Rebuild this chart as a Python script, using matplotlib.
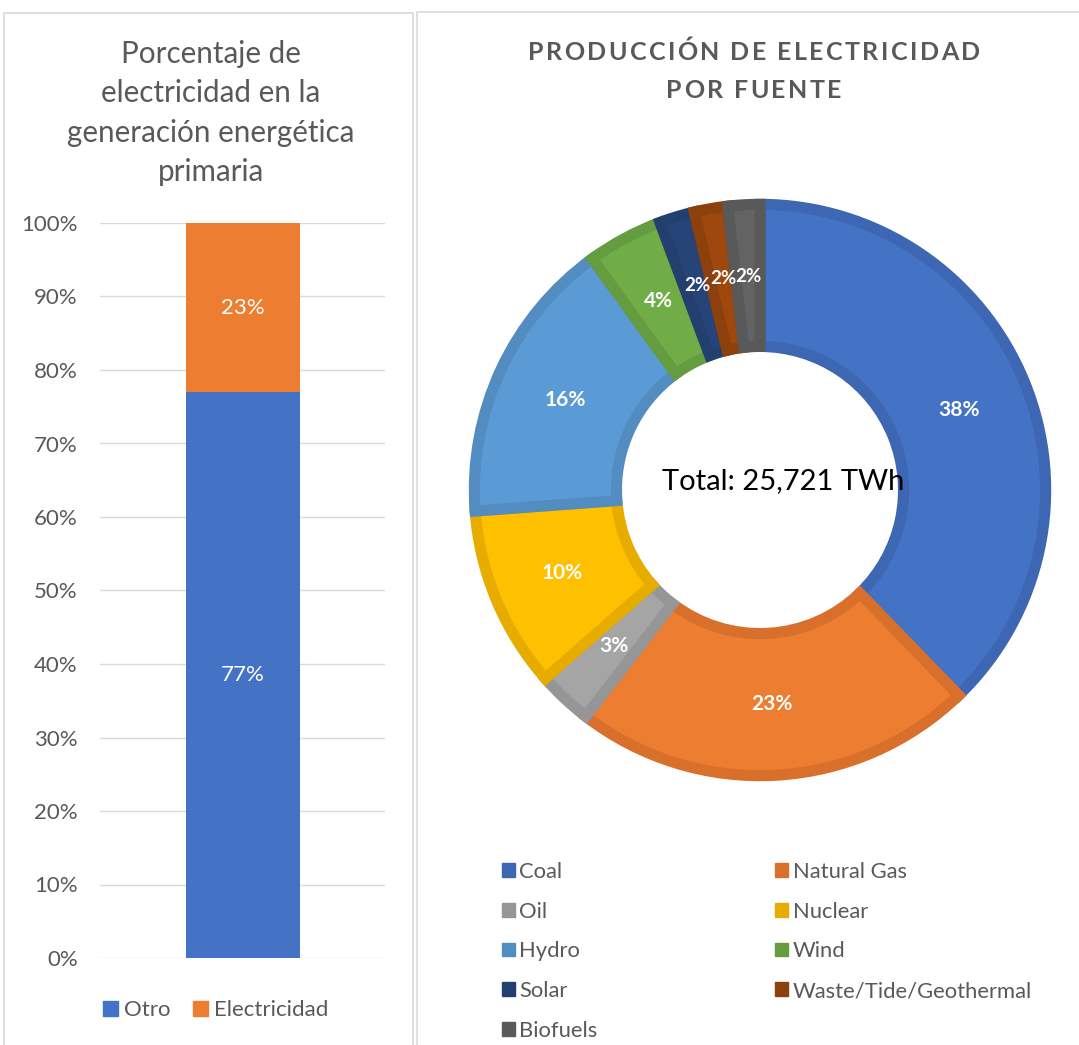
import matplotlib
matplotlib.use("Agg")
import matplotlib.pyplot as plt
from matplotlib.patches import Patch, Rectangle
import numpy as np

plt.rcParams['font.family'] = ['Lato', 'DejaVu Sans']

# ---- data ----
bar_categories = ["Otro", "Electricidad"]
bar_values = [77, 23]
bar_ticks = [0, 10, 20, 30, 40, 50, 60, 70, 80, 90, 100]

sources = ["Coal", "Natural Gas", "Oil", "Nuclear", "Hydro", "Wind", "Solar",
           "Waste/Tide/Geothermal", "Biofuels"]
shares = [37.8, 22.7, 3.1, 10.3, 16.2, 4.3, 2.0, 1.9, 1.8]
total_label = "Total: 25,721 TWh"

left_title = "Porcentaje de\nelectricidad en la\ngeneración energética\nprimaria"
right_title_lines = ["PRODUCCIÓN DE ELECTRICIDAD", "POR FUENTE"]

# ---- styles ----
W, H = 1079, 1045
bar_colors = ["#4472C4", "#ED7D31"]
fill_colors = ["#4472C4", "#ED7D31", "#A5A5A5", "#FFC000", "#5B9BD5",
               "#70AD47", "#264478", "#9E480E", "#636363"]
edge_colors = ["#3D66B3", "#D8702B", "#969696", "#E6AD00", "#528CC0",
               "#659C40", "#223F6E", "#8C400C", "#595959"]
gray = "#595959"

fig = plt.figure(figsize=(W / 100, H / 100), dpi=100)
renderer = fig.canvas.get_renderer()

def fx(px):
    return px / W

def fy(py):
    return 1 - py / H

def spaced_text(s, xc_px, y_px, gap_px, **kw):
    """Draw text centred at xc_px with extra letter spacing."""
    widths = []
    objs = []
    for ch in s:
        t = fig.text(0, fy(y_px), ch, ha="left", va="center", **kw)
        bb = t.get_window_extent(renderer=renderer)
        widths.append(bb.width)
        objs.append(t)
    total = sum(widths) + gap_px * (len(s) - 1)
    x = xc_px - total / 2
    for t, w in zip(objs, widths):
        t.set_x(fx(x))
        x += w + gap_px

# panel borders
fig.patches.append(Rectangle((fx(4), fy(1060)), fx(413) - fx(4), fy(13) - fy(1060),
                             transform=fig.transFigure, fill=False,
                             edgecolor="#D9D9D9", linewidth=1.2))
fig.patches.append(Rectangle((fx(417), fy(1060)), fx(1090) - fx(417), fy(12) - fy(1060),
                             transform=fig.transFigure, fill=False,
                             edgecolor="#D9D9D9", linewidth=1.2))

# ---- left stacked bar ----
axb = fig.add_axes([fx(100), fy(958), fx(385) - fx(100), fy(223) - fy(958)])
bottom = 0
for cat, val, col in zip(bar_categories, bar_values, bar_colors):
    axb.bar([0], [val], bottom=bottom, width=0.4, color=col, label=cat, zorder=3)
    axb.text(0, bottom + val / 2, f"{val}%", ha="center", va="center",
             color="white", fontsize=16, zorder=4)
    bottom += val
axb.set_xlim(-0.5, 0.5)
axb.set_ylim(0, 100)
axb.set_yticks(bar_ticks)
axb.set_yticklabels([f"{t}%" for t in bar_ticks], fontsize=16, color=gray)
axb.set_xticks([])
axb.grid(axis="y", color="#D9D9D9", linewidth=1, zorder=0)
for s in axb.spines.values():
    s.set_visible(False)
axb.tick_params(axis="y", length=0, pad=16)
fig.text(fx(211), fy(113), left_title, ha="center", va="center", fontsize=21.3,
         color=gray, linespacing=1.5)
fig.legend(handles=[Patch(color=c) for c in bar_colors], labels=bar_categories,
           loc="center", bbox_to_anchor=(fx(216), fy(1010)), ncol=2, frameon=False,
           fontsize=16, handlelength=0.65, handleheight=0.65, handletextpad=0.3,
           columnspacing=1.0, labelcolor=gray)

# ---- right donut ----
R = 290
axp = fig.add_axes([fx(760 - R), fy(490 + R), fx(2 * R), 2 * R / H])
wedges, texts, autotexts = axp.pie(
    shares, colors=fill_colors, startangle=90, counterclock=False,
    radius=0.985, autopct="%.0f%%", pctdistance=0.75,
    wedgeprops=dict(width=0.49, linewidth=8),
    textprops=dict(color="white", fontsize=15, fontweight="bold"))
for w, ec in zip(wedges, edge_colors):
    w.set_edgecolor(ec)
    w.set_joinstyle("miter")
# the three thin slices carry tightly packed labels, as in the original
for share, at in zip(shares, autotexts):
    if share < 2.5:
        at.set_fontsize(13.5)
axp.set_xlim(-1, 1)
axp.set_ylim(-1, 1)
axp.text(0.08, 0.03, total_label, ha="center", va="center", fontsize=21, color="black")

spaced_text(right_title_lines[0], 754, 52, 2.4, fontsize=18, fontweight="bold", color=gray)
spaced_text(right_title_lines[1], 754, 91, 2.4, fontsize=18, fontweight="bold", color=gray)

order = [0, 2, 4, 6, 8, 1, 3, 5, 7]
handles = [Patch(color=edge_colors[i]) for i in order]
labels = [sources[i] for i in order]
fig.legend(handles=handles, labels=labels, loc="upper left",
           bbox_to_anchor=(fx(482), fy(842)), ncol=2, frameon=False, fontsize=15.8,
           handlelength=0.6, handleheight=0.6, handletextpad=0.2,
           columnspacing=8.1, labelspacing=0.9, labelcolor=gray)

fig.savefig("out.png", dpi=100)
